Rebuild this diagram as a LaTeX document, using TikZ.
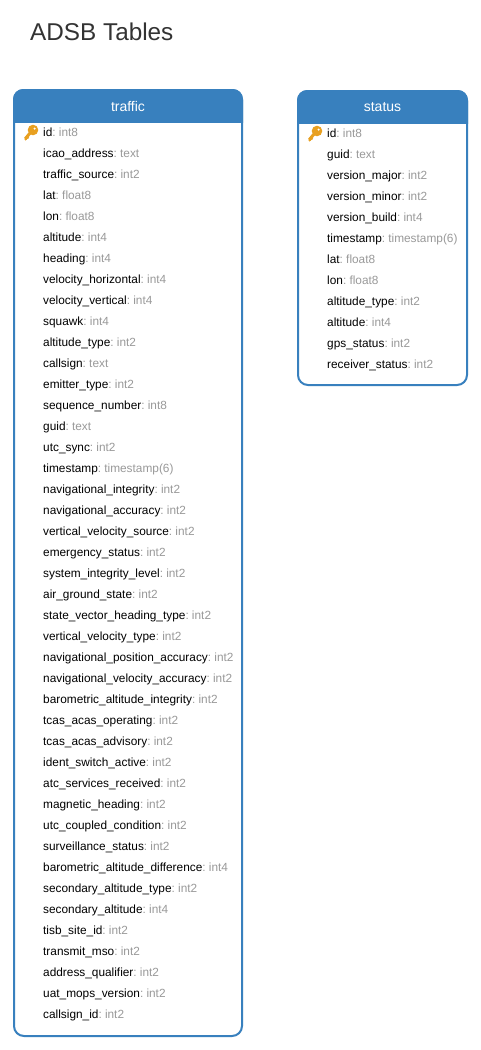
\documentclass[tikz,border=0pt]{standalone}
\usepackage{fontspec}
\setmainfont{Liberation Sans}
\definecolor{headblue}{HTML}{3880BE}
\definecolor{typegray}{HTML}{999999}
\definecolor{titlegray}{HTML}{333333}
\definecolor{keygold}{HTML}{E8A020}
\tikzset{
  frame/.style={draw=headblue, line width=2pt, rounded corners=10pt, fill=white},
  head/.style={fill=headblue, rounded corners=10pt},
  headtext/.style={text=white, font=\fontsize{14}{14}\selectfont, anchor=center},
  row/.style={anchor=base west, inner sep=0pt, font=\fontsize{11.85}{12}\selectfont},
  pagetitle/.style={anchor=base west, inner sep=0pt, text=titlegray, font=\fontsize{24.3}{25}\selectfont}
}
\newcommand{\rowtext}[2]{#1{\color{typegray}:\hspace{3.2pt}#2}}
\newcommand{\goldkey}[2]{%
  \fill[keygold, even odd rule] (#1+4, #2-2) circle (5.3) (#1+5.6, #2-3.4) circle (1.3);
  \draw[keygold, line width=3pt] (#1+1.5, #2+0.5) -- (#1-3.8, #2+6.8);
  \draw[keygold, line width=1.8pt] (#1-2.2, #2+4.8) -- (#1-0.6, #2+6.4);
  \draw[keygold, line width=1.8pt] (#1-4, #2+6.4) -- (#1-2.8, #2+8);
}
\begin{document}
\begin{tikzpicture}[x=1pt, y=-1pt]

  \useasboundingbox (0, 0) rectangle (481, 1050);
  \fill[white] (0, 0) rectangle (481, 1050);

  \node[pagetitle] (adsbtitle) at (30, 40) {ADSB Tables};

  % traffic
  \draw[frame] (14, 90) rectangle (242, 1036);
  \begin{scope}
    \clip (13, 89) rectangle (243, 122);
    \fill[head] (13, 89) rectangle (243, 140);
  \end{scope}
  \node[headtext] (trafficname) at (128, 106) {traffic};
  \goldkey{29}{132}
  \foreach \name/\kind [count=\i from 0] in {
    id/int8, icao\_address/text, traffic\_source/int2, lat/float8, lon/float8,
    altitude/int4, heading/int4, velocity\_horizontal/int4, velocity\_vertical/int4,
    squawk/int4, altitude\_type/int2, callsign/text, emitter\_type/int2,
    sequence\_number/int8, guid/text, utc\_sync/int2, timestamp/timestamp(6),
    navigational\_integrity/int2, navigational\_accuracy/int2,
    vertical\_velocity\_source/int2, emergency\_status/int2,
    system\_integrity\_level/int2, air\_ground\_state/int2,
    state\_vector\_heading\_type/int2, vertical\_velocity\_type/int2,
    navigational\_position\_accuracy/int2, navigational\_velocity\_accuracy/int2,
    barometric\_altitude\_integrity/int2, tcas\_acas\_operating/int2,
    tcas\_acas\_advisory/int2, ident\_switch\_active/int2,
    atc\_services\_received/int2, magnetic\_heading/int2,
    utc\_coupled\_condition/int2, surveillance\_status/int2,
    barometric\_altitude\_difference/int4, secondary\_altitude\_type/int2,
    secondary\_altitude/int4, tisb\_site\_id/int2, transmit\_mso/int2,
    address\_qualifier/int2, uat\_mops\_version/int2, callsign\_id/int2}
    \node[row] (traffic\i) at (43, 136+21*\i) {\rowtext{\name}{\kind}};

  % status
  \draw[frame] (298, 91) rectangle (467, 385);
  \begin{scope}
    \clip (297, 90) rectangle (468, 123);
    \fill[head] (297, 90) rectangle (468, 140);
  \end{scope}
  \node[headtext] (statusname) at (382.5, 107) {status};
  \goldkey{313}{133}
  \foreach \name/\kind [count=\i from 0] in {
    id/int8, guid/text, version\_major/int2, version\_minor/int2,
    version\_build/int4, timestamp/timestamp(6), lat/float8, lon/float8,
    altitude\_type/int2, altitude/int4, gps\_status/int2, receiver\_status/int2}
    \node[row] (status\i) at (327, 137+21*\i) {\rowtext{\name}{\kind}};

\end{tikzpicture}
\end{document}
